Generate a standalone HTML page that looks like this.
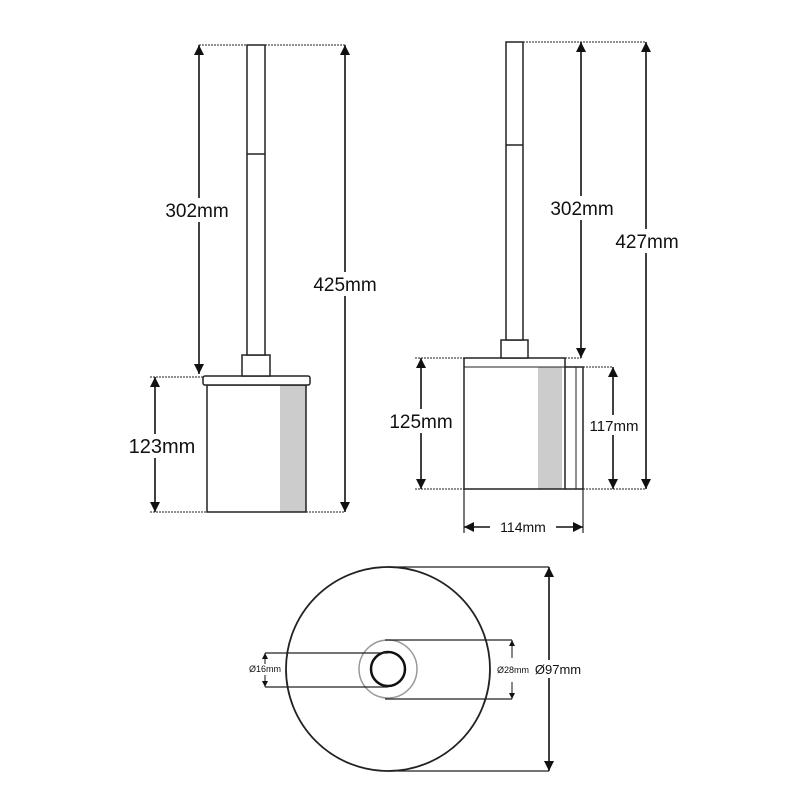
<!DOCTYPE html>
<html><head><meta charset="utf-8"><style>
html,body{margin:0;padding:0;background:#fff;}
svg{display:block}
text{font-family:"Liberation Sans",Arial,sans-serif;fill:#111}
</style></head><body>
<svg width="800" height="800" viewBox="0 0 800 800" xmlns="http://www.w3.org/2000/svg">
<defs>
<marker id="a" viewBox="0 0 10 10" refX="10" refY="5" markerWidth="10" markerHeight="10" orient="auto-start-reverse" markerUnits="userSpaceOnUse"><path d="M0,0 L10,5 L0,10 z" fill="#111"/></marker>
<marker id="s" viewBox="0 0 10 10" refX="10" refY="5" markerWidth="6" markerHeight="6" orient="auto-start-reverse" markerUnits="userSpaceOnUse"><path d="M0,0 L10,5 L0,10 z" fill="#111"/></marker>
</defs>
<rect width="800" height="800" fill="#fff"/>
<g stroke="#222" stroke-width="1.5" fill="#fff">
<rect x="280" y="385" width="26" height="127" fill="#ccc" stroke="none"/>
<rect x="207" y="385" width="99" height="127" fill="none"/>
<rect x="203" y="376" width="107" height="9" rx="2"/>
<rect x="242" y="355" width="28" height="21"/>
<rect x="247" y="45" width="18" height="310"/>
<line x1="247" y1="154" x2="265" y2="154"/>
<rect x="538" y="367" width="24" height="122" fill="#ccc" stroke="none"/>
<rect x="464" y="358" width="101" height="131" fill="none"/>
<polyline points="565,367 583,367 583,489 565,489" fill="none"/>
<line x1="464" y1="367" x2="565" y2="367" stroke-width="1"/>
<line x1="576" y1="367" x2="576" y2="489" stroke-width="1"/>
<rect x="501" y="340" width="27" height="18"/>
<rect x="506" y="42" width="17" height="298"/>
<line x1="506" y1="145" x2="523" y2="145"/>
<circle cx="388" cy="669" r="102" stroke-width="1.8"/>
<circle cx="388" cy="669" r="29" stroke="#999"/>
<circle cx="388" cy="669" r="17" stroke="#111" stroke-width="2.5"/>
</g>
<g stroke="#222" stroke-width="1" fill="none" stroke-dasharray="2,1">
<line x1="199" y1="45" x2="345" y2="45"/>
<line x1="150" y1="377" x2="203" y2="377"/>
<line x1="150" y1="512" x2="345" y2="512"/>
<line x1="523" y1="42" x2="646" y2="42"/>
<line x1="415" y1="358" x2="464" y2="358"/>
<line x1="565" y1="358" x2="581" y2="358"/>
<line x1="583" y1="367" x2="613" y2="367"/>
<line x1="415" y1="489" x2="646" y2="489"/>
</g>
<g stroke="#222" stroke-width="1.2" fill="none">
<line x1="464" y1="489" x2="464" y2="533"/>
<line x1="583" y1="489" x2="583" y2="533"/>
<line x1="388" y1="567" x2="549" y2="567"/>
<line x1="388" y1="771" x2="549" y2="771"/>
<line x1="265" y1="653" x2="388" y2="653"/>
<line x1="265" y1="687" x2="388" y2="687"/>
<line x1="385" y1="640" x2="512" y2="640"/>
<line x1="385" y1="699" x2="512" y2="699"/>
</g>
<g stroke="#111" stroke-width="1.6" fill="none">
<line x1="199" y1="45" x2="199" y2="374" marker-start="url(#a)" marker-end="url(#a)"/>
<line x1="345" y1="45" x2="345" y2="512" marker-start="url(#a)" marker-end="url(#a)"/>
<line x1="155" y1="377" x2="155" y2="512" marker-start="url(#a)" marker-end="url(#a)"/>
<line x1="581" y1="42" x2="581" y2="358" marker-start="url(#a)" marker-end="url(#a)"/>
<line x1="646" y1="42" x2="646" y2="489" marker-start="url(#a)" marker-end="url(#a)"/>
<line x1="421" y1="358" x2="421" y2="489" marker-start="url(#a)" marker-end="url(#a)"/>
<line x1="613" y1="367" x2="613" y2="489" marker-start="url(#a)" marker-end="url(#a)"/>
<line x1="464" y1="527" x2="583" y2="527" marker-start="url(#a)" marker-end="url(#a)"/>
<line x1="549" y1="567" x2="549" y2="771" marker-start="url(#a)" marker-end="url(#a)"/>
</g>
<g stroke="#111" stroke-width="1" fill="none">
<line x1="265" y1="653" x2="265" y2="687" marker-start="url(#s)" marker-end="url(#s)"/>
<line x1="512" y1="640" x2="512" y2="658" marker-start="url(#s)"/>
<line x1="512" y1="682" x2="512" y2="699" marker-end="url(#s)"/>
</g>
<g fill="#fff">
<rect x="160" y="198" width="74" height="24"/>
<rect x="305" y="272" width="82" height="24"/>
<rect x="126" y="434" width="72" height="24"/>
<rect x="540" y="196" width="84" height="24"/>
<rect x="604" y="229" width="86" height="24"/>
<rect x="380" y="409" width="82" height="24"/>
<rect x="585" y="415" width="60" height="20"/>
<rect x="490" y="519" width="66" height="16"/>
<rect x="530" y="660" width="60" height="18"/>
<rect x="246" y="664" width="38" height="11"/>
</g>
<g font-size="19">
<text x="197" y="217" text-anchor="middle">302mm</text>
<text x="345" y="291" text-anchor="middle">425mm</text>
<text x="162" y="453" text-anchor="middle" font-size="20">123mm</text>
<text x="582" y="215" text-anchor="middle">302mm</text>
<text x="647" y="248" text-anchor="middle">427mm</text>
<text x="421" y="428" text-anchor="middle">125mm</text>
</g>
<text x="614" y="431" text-anchor="middle" font-size="15">117mm</text>
<text x="523" y="532" text-anchor="middle" font-size="14">114mm</text>
<text x="558" y="674" text-anchor="middle" font-size="13">Ø97mm</text>
<text x="513" y="673" text-anchor="middle" font-size="9">Ø28mm</text>
<text x="265" y="672" text-anchor="middle" font-size="9">Ø16mm</text>
</svg>
</body></html>
